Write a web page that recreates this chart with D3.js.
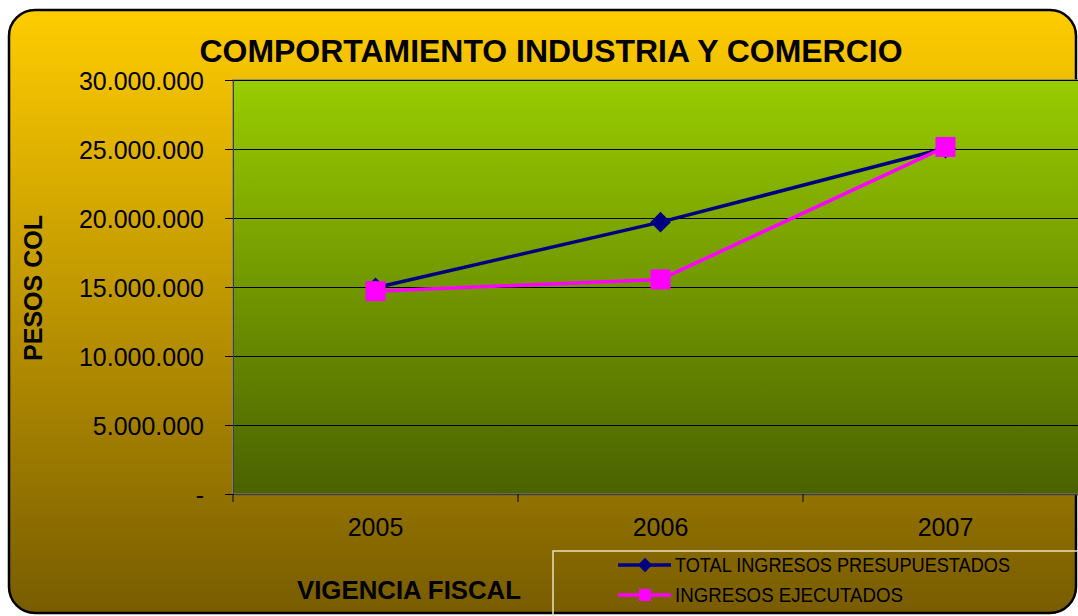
<!DOCTYPE html>
<html>
<head>
<meta charset="utf-8">
<script src="https://cdn.jsdelivr.net/npm/d3@7"></script>
<style>
  html, body { margin: 0; padding: 0; background: #fff; }
  svg { display: block; font-family: Arial, "Liberation Sans", sans-serif; }
</style>
</head>
<body>
<svg id="chart" width="1078" height="616"></svg>
<script>
var years = ['2005', '2006', '2007'];
var presupuestados = [14950000, 19700000, 25050000];
var ejecutados = [14700000, 15550000, 25150000];
var yTicks = [0, 5000000, 10000000, 15000000, 20000000, 25000000, 30000000];
var seriesNames = ['TOTAL INGRESOS PRESUPUESTADOS', 'INGRESOS EJECUTADOS'];

var svg = d3.select('#chart');
var defs = svg.append('defs');

var bgGrad = defs.append('linearGradient').attr('id', 'bgGrad')
  .attr('x1', 0).attr('y1', 0).attr('x2', 0).attr('y2', 1);
bgGrad.append('stop').attr('offset', '0%').attr('stop-color', '#ffcc00');
bgGrad.append('stop').attr('offset', '100%').attr('stop-color', '#785c00');

var plotGrad = defs.append('linearGradient').attr('id', 'plotGrad')
  .attr('x1', 0).attr('y1', 0).attr('x2', 0).attr('y2', 1);
plotGrad.append('stop').attr('offset', '0%').attr('stop-color', '#99cc00');
plotGrad.append('stop').attr('offset', '100%').attr('stop-color', '#4a6200');

// outer frame
svg.append('rect')
  .attr('x', 9).attr('y', 10)
  .attr('width', 1067).attr('height', 603)
  .attr('rx', 26).attr('ry', 26)
  .style('fill', 'url(#bgGrad)')
  .attr('stroke', '#000')
  .attr('stroke-width', 2.5);

var plotL = 233, plotR = 1088, plotT = 80, plotB = 494;

var x = d3.scaleBand().domain(years).range([plotL, plotR]).padding(0);
var y = d3.scaleLinear().domain([0, 30000000]).range([plotB, plotT]);

// plot area
svg.append('rect')
  .attr('x', plotL).attr('y', plotT)
  .attr('width', plotR - plotL).attr('height', plotB - plotT)
  .style('fill', 'url(#plotGrad)')
  .attr('stroke', '#808080')
  .attr('stroke-width', 1.5);

// gridlines
svg.append('g').selectAll('line')
  .data(yTicks.slice(1))
  .enter().append('line')
  .attr('x1', plotL).attr('x2', plotR)
  .attr('y1', function(d){ return Math.round(y(d)) + 0.5; })
  .attr('y2', function(d){ return Math.round(y(d)) + 0.5; })
  .attr('stroke', '#000')
  .attr('stroke-width', 1);

// y axis
var yAxis = d3.axisLeft(y)
  .tickValues(yTicks)
  .tickSize(8)
  .tickPadding(21)
  .tickFormat(function(d){
    return d === 0 ? '-' : d3.format(',')(d).replace(/,/g, '.');
  });
var gy = svg.append('g').attr('transform', 'translate(' + plotL + ',0)').call(yAxis);
gy.select('.domain').attr('stroke', '#404040');
gy.selectAll('.tick line').attr('stroke', '#000');
gy.selectAll('.tick text')
  .style('font-size', '25px')
  .attr('fill', '#000')
  .attr('dy', '0.36em');

// x axis
var xAxis = d3.axisBottom(x).tickSize(0).tickPadding(24);
var gx = svg.append('g').attr('transform', 'translate(0,' + plotB + ')').call(xAxis);
gx.select('.domain').attr('stroke', '#404040').attr('stroke-width', 1.5);
gx.selectAll('.tick text')
  .style('font-size', '25px')
  .attr('fill', '#000');
// category boundary ticks
svg.append('g').selectAll('line')
  .data(years)
  .enter().append('line')
  .attr('x1', function(d){ return x(d); })
  .attr('x2', function(d){ return x(d); })
  .attr('y1', plotB).attr('y2', plotB + 8)
  .attr('stroke', '#000');

// lines
var line = d3.line()
  .x(function(d, i){ return x(years[i]) + x.bandwidth() / 2; })
  .y(function(d){ return y(d); });

svg.append('path')
  .datum(presupuestados)
  .attr('d', line)
  .attr('fill', 'none')
  .attr('stroke', '#000080')
  .attr('stroke-width', 3.5);

svg.append('g').selectAll('path')
  .data(presupuestados)
  .enter().append('path')
  .attr('d', d3.symbol().type(d3.symbolDiamond2).size(270))
  .attr('transform', function(d, i){
    return 'translate(' + (x(years[i]) + x.bandwidth() / 2) + ',' + y(d) + ')';
  })
  .attr('fill', '#000080');

svg.append('path')
  .datum(ejecutados)
  .attr('d', line)
  .attr('fill', 'none')
  .attr('stroke', '#ff00ff')
  .attr('stroke-width', 3.5);

svg.append('g').selectAll('rect')
  .data(ejecutados)
  .enter().append('rect')
  .attr('x', function(d, i){ return x(years[i]) + x.bandwidth() / 2 - 10; })
  .attr('y', function(d){ return y(d) - 10; })
  .attr('width', 20).attr('height', 20)
  .attr('fill', '#ff00ff');

// title
svg.append('text')
  .attr('x', 551).attr('y', 62)
  .attr('text-anchor', 'middle')
  .style('font-size', '31px')
  .style('font-weight', 'bold')
  .attr('textLength', 703)
  .attr('lengthAdjust', 'spacingAndGlyphs')
  .text('COMPORTAMIENTO INDUSTRIA Y COMERCIO');

// axis titles
svg.append('text')
  .attr('transform', 'translate(42,288) rotate(-90)')
  .attr('text-anchor', 'middle')
  .style('font-size', '25px')
  .style('font-weight', 'bold')
  .text('PESOS COL');

svg.append('text')
  .attr('x', 409).attr('y', 599)
  .attr('text-anchor', 'middle')
  .style('font-size', '26px')
  .style('font-weight', 'bold')
  .attr('textLength', 224)
  .attr('lengthAdjust', 'spacingAndGlyphs')
  .text('VIGENCIA FISCAL');

// legend
var lg = svg.append('g');
lg.append('rect')
  .attr('x', 553).attr('y', 551)
  .attr('width', 540).attr('height', 80)
  .attr('fill', 'none')
  .attr('stroke', '#e8e0c0')
  .attr('stroke-width', 1.5);

var legendRows = [
  { name: seriesNames[0], color: '#000080', y: 565, len: 335 },
  { name: seriesNames[1], color: '#ff00ff', y: 595, len: 228 }
];
legendRows.forEach(function(r, i){
  lg.append('line')
    .attr('x1', 618).attr('x2', 671)
    .attr('y1', r.y).attr('y2', r.y)
    .attr('stroke', r.color).attr('stroke-width', 3.5);
  if (i === 0) {
    lg.append('path')
      .attr('d', d3.symbol().type(d3.symbolDiamond2).size(130))
      .attr('transform', 'translate(645,' + r.y + ')')
      .attr('fill', r.color);
  } else {
    lg.append('rect')
      .attr('x', 639).attr('y', r.y - 6)
      .attr('width', 12).attr('height', 12)
      .attr('fill', r.color);
  }
  lg.append('text')
    .attr('x', 675).attr('y', r.y + 7)
    .style('font-size', '20px')
    .attr('textLength', r.len)
    .attr('lengthAdjust', 'spacingAndGlyphs')
    .text(r.name);
});
</script>
</body>
</html>
